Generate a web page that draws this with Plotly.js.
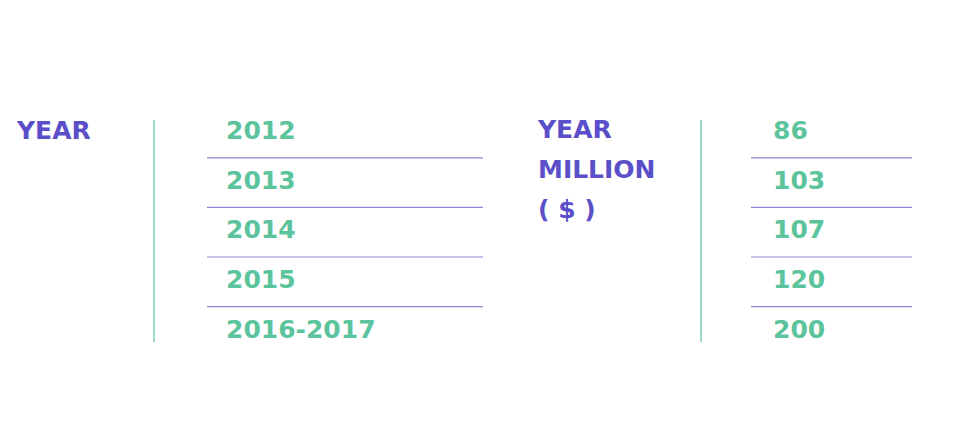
<!DOCTYPE html>
<html><head><meta charset="utf-8">
<script src="https://cdn.plot.ly/plotly-3.0.1.min.js"></script>
<style>body{margin:0;background:#fff}</style></head>
<body><div id="c" style="width:968px;height:424px"></div>
<script>
const years = ["2012","2013","2014","2015","2016-2017"];
const millions = [86,103,107,120,200];
const leftHeader = "YEAR";
const rightHeader = ["YEAR","MILLION","( $ )"];

const purple = "#5a4fc8", green = "#5cc49c", lineC = "#8f85d8";
const rowY = years.map((_, i) => 133 + i * 49.6);
const font = {family: "'DejaVu Sans', Roboto", size: 25, color: green, weight: 700};

const traces = [
  {x: years.map(() => 226), y: rowY, text: years, mode: "text", textposition: "middle right", textfont: font, hoverinfo: "none"},
  {x: millions.map(() => 773), y: rowY, text: millions.map(String), mode: "text", textposition: "middle right", textfont: font, hoverinfo: "none"},
  {x: [17], y: [133], text: [leftHeader], mode: "text", textposition: "middle right", textfont: {...font, color: purple}, hoverinfo: "none"},
  {x: rightHeader.map(() => 538), y: rightHeader.map((_, i) => 132 + i * 40), text: rightHeader, mode: "text", textposition: "middle right", textfont: {...font, color: purple}, hoverinfo: "none"}
];

const shapes = [
  {type: "line", x0: 154, x1: 154, y0: 120, y1: 342, line: {color: green, width: 1.2}},
  {type: "line", x0: 701, x1: 701, y0: 120, y1: 342, line: {color: green, width: 1.2}}
];
for (let i = 0; i < years.length - 1; i++) {
  const y = (rowY[i] + rowY[i + 1]) / 2;
  shapes.push({type: "line", x0: 207, x1: 483, y0: y, y1: y, line: {color: lineC, width: 1.2}});
  shapes.push({type: "line", x0: 751, x1: 912, y0: y, y1: y, line: {color: lineC, width: 1.2}});
}

Plotly.newPlot("c", traces, {
  width: 968, height: 424, margin: {l: 0, r: 0, t: 0, b: 0},
  showlegend: false, paper_bgcolor: "#fff", plot_bgcolor: "#fff",
  xaxis: {range: [0, 968], visible: false, fixedrange: true},
  yaxis: {range: [424, 0], visible: false, fixedrange: true},
  shapes: shapes
}, {staticPlot: true});
</script></body></html>
